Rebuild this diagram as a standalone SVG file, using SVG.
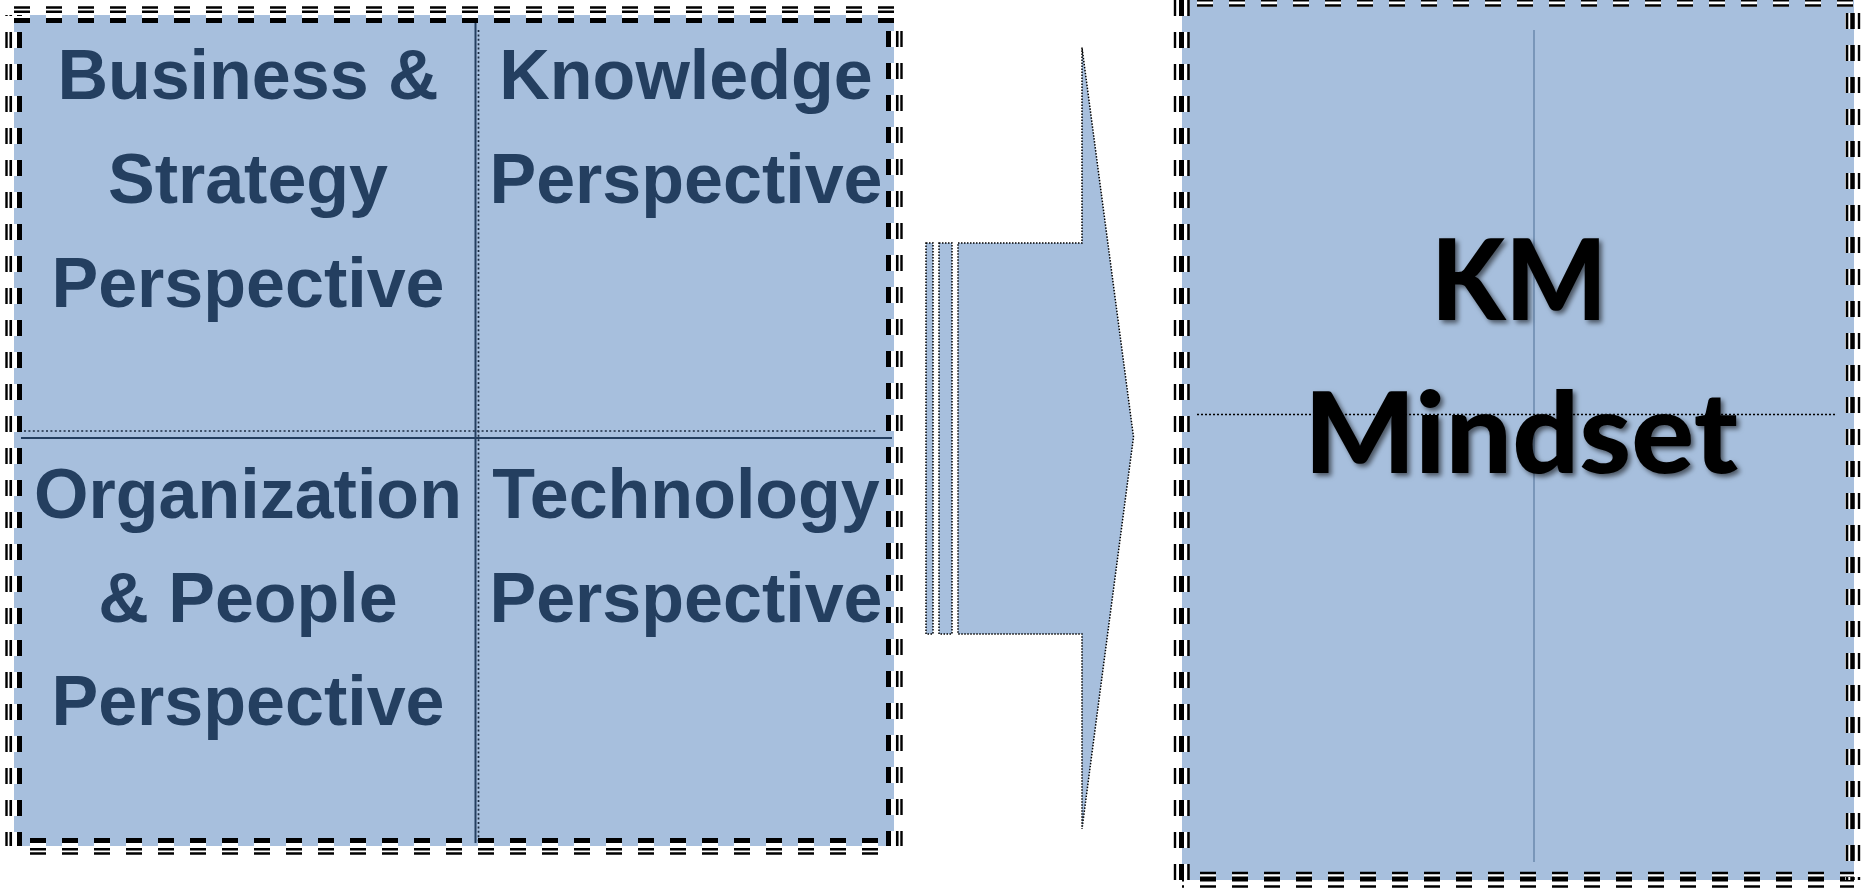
<svg xmlns="http://www.w3.org/2000/svg" width="1864" height="888" viewBox="0 0 1864 888">
<style>
.fill{fill:#A7BFDD;stroke:none}
.lbl{font-family:"Liberation Sans",Arial,sans-serif;font-weight:bold;font-size:70px;fill:#243F60;text-anchor:middle}
.km{font-family:Lato,"Open Sans",sans-serif;font-weight:900;font-size:112px;fill:#000;text-anchor:middle}
.dw{stroke:#fff;stroke-width:16;stroke-dasharray:16 16;fill:none}
.db{stroke:#000;stroke-dasharray:16 16;fill:none}
.dot{stroke:#1c2c42;stroke-width:1.7;stroke-dasharray:2 2.4;fill:none}
.solid{stroke:#243F60;stroke-width:2;fill:none}
.arr{fill:#A7BFDD;stroke:#000;stroke-width:1.5;stroke-dasharray:1.5 1.5}
</style>
<defs>
<filter id="sh" x="-10%" y="-10%" width="130%" height="130%">
<feDropShadow dx="3" dy="3" stdDeviation="2.5" flood-color="#000" flood-opacity="0.55"/>
</filter>
</defs>
<rect width="1864" height="888" fill="#fff"/>

<g id="left-panel">
<rect class="fill" x="14" y="15" width="880" height="831"/>
<line class="solid" x1="475.5" y1="22" x2="475.5" y2="843"/>
<line class="dot" x1="478.5" y1="30" x2="478.5" y2="843"/>
<line class="dot" x1="24" y1="431" x2="877" y2="431"/>
<line class="solid" x1="21" y1="438" x2="892" y2="438"/>
<g id="q-business">
<text class="lbl" x="248" y="99">Business &amp;</text>
<text class="lbl" x="248" y="203">Strategy</text>
<text class="lbl" x="248" y="307">Perspective</text>
</g>
<g id="q-knowledge">
<text class="lbl" x="686" y="99">Knowledge</text>
<text class="lbl" x="686" y="203">Perspective</text>
</g>
<g id="q-organization">
<text class="lbl" x="248" y="518">Organization</text>
<text class="lbl" x="248" y="622">&amp; People</text>
<text class="lbl" x="248" y="725">Perspective</text>
</g>
<g id="q-technology">
<text class="lbl" x="686" y="518">Technology</text>
<text class="lbl" x="686" y="622">Perspective</text>
</g>
<g id="left-border">
<line class="dw" x1="14" y1="15" x2="894" y2="15"/>
<line class="db" stroke-width="2.4" x1="14" y1="7.5" x2="894" y2="7.5"/>
<line class="db" stroke-width="2.6" x1="14" y1="11.75" x2="894" y2="11.75"/>
<line class="db" stroke-width="5" x1="14" y1="20.5" x2="894" y2="20.5"/>
<line class="dw" stroke-dashoffset="16" x1="14" y1="846" x2="894" y2="846"/>
<line class="db" stroke-dashoffset="16" stroke-width="2.4" x1="14" y1="853.5" x2="894" y2="853.5"/>
<line class="db" stroke-dashoffset="16" stroke-width="2.6" x1="14" y1="849.25" x2="894" y2="849.25"/>
<line class="db" stroke-dashoffset="16" stroke-width="5" x1="14" y1="840.5" x2="894" y2="840.5"/>
<line class="dw" stroke-dashoffset="15" x1="14" y1="15" x2="14" y2="846"/>
<line class="db" stroke-dashoffset="15" stroke-width="2.4" x1="6.5" y1="15" x2="6.5" y2="846"/>
<line class="db" stroke-dashoffset="15" stroke-width="2.6" x1="10.75" y1="15" x2="10.75" y2="846"/>
<line class="db" stroke-dashoffset="15" stroke-width="5" x1="19.5" y1="15" x2="19.5" y2="846"/>
<line class="dw" stroke-dashoffset="16" x1="894" y1="15" x2="894" y2="846"/>
<line class="db" stroke-dashoffset="16" stroke-width="2.4" x1="901.5" y1="15" x2="901.5" y2="846"/>
<line class="db" stroke-dashoffset="16" stroke-width="2.6" x1="897.25" y1="15" x2="897.25" y2="846"/>
<line class="db" stroke-dashoffset="16" stroke-width="5" x1="888.5" y1="15" x2="888.5" y2="846"/>
</g>
</g>

<g id="connectors">
<g id="arrow">
<rect class="arr" x="926" y="243" width="7" height="391"/>
<rect class="arr" x="939" y="243" width="13" height="391"/>
<polygon class="arr" points="958,243 1082,243 1082,47.5 1133.5,437 1082,829 1082,634 958,634"/>
</g>
</g>

<g id="right-panel">
<rect class="fill" x="1182" y="-1" width="672" height="881"/>
<line stroke="#6a89ad" stroke-width="1.5" x1="1534" y1="30" x2="1534" y2="862"/>
<line stroke="#000" stroke-width="1.6" stroke-dasharray="2 2" x1="1197" y1="414.5" x2="1837" y2="414.5"/>
<g id="km-text" filter="url(#sh)">
<text class="km" x="1519" y="320" textLength="176" lengthAdjust="spacingAndGlyphs">KM</text>
<text class="km" x="1521" y="473" textLength="434" lengthAdjust="spacingAndGlyphs">Mindset</text>
</g>
<g id="right-border">
<line class="dw" stroke-dashoffset="17" x1="1182" y1="-1" x2="1854" y2="-1"/>
<line class="db" stroke-dashoffset="17" stroke-width="2.4" x1="1182" y1="-7.5" x2="1854" y2="-7.5"/>
<line class="db" stroke-dashoffset="17" stroke-width="5" x1="1182" y1="-1" x2="1854" y2="-1"/>
<line class="db" stroke-dashoffset="17" stroke-width="2.6" x1="1182" y1="5.5" x2="1854" y2="5.5"/>
<line class="dw" stroke-dashoffset="14" x1="1182" y1="880" x2="1854" y2="880"/>
<line class="db" stroke-dashoffset="14" stroke-width="2.4" x1="1182" y1="886.5" x2="1854" y2="886.5"/>
<line class="db" stroke-dashoffset="14" stroke-width="5" x1="1182" y1="879" x2="1854" y2="879"/>
<line class="db" stroke-dashoffset="14" stroke-width="2.6" x1="1182" y1="873" x2="1854" y2="873"/>
<line class="dw" stroke-dashoffset="31" x1="1182" y1="-1" x2="1182" y2="880"/>
<line class="db" stroke-dashoffset="31" stroke-width="2.4" x1="1175" y1="-1" x2="1175" y2="880"/>
<line class="db" stroke-dashoffset="31" stroke-width="5" x1="1181.5" y1="-1" x2="1181.5" y2="880"/>
<line class="db" stroke-dashoffset="31" stroke-width="2.6" x1="1188.5" y1="-1" x2="1188.5" y2="880"/>
<line class="dw" stroke-dashoffset="18" x1="1853" y1="-1" x2="1853" y2="880"/>
<line class="db" stroke-dashoffset="18" stroke-width="2.4" x1="1859" y1="-1" x2="1859" y2="880"/>
<line class="db" stroke-dashoffset="18" stroke-width="4.5" x1="1852.5" y1="-1" x2="1852.5" y2="880"/>
<line class="db" stroke-dashoffset="18" stroke-width="2.6" x1="1847" y1="-1" x2="1847" y2="880"/>
</g>
</g>
</svg>
